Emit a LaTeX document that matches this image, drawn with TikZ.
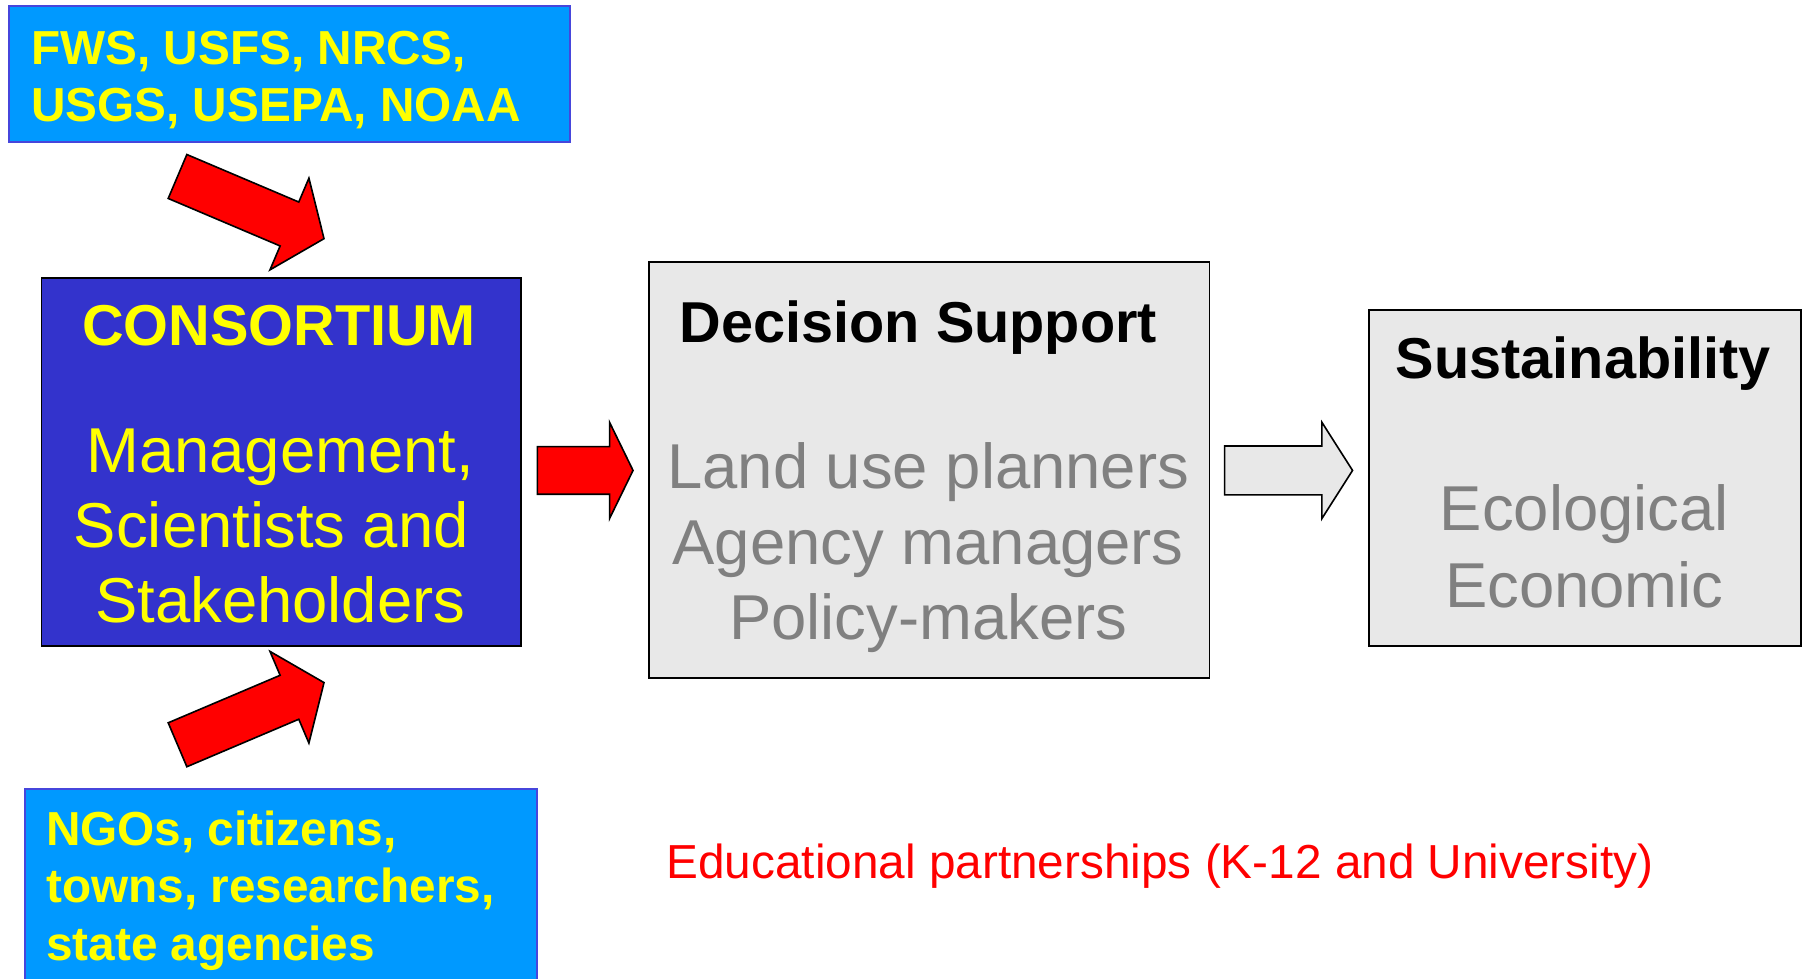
\documentclass[tikz,border=0pt]{standalone}
\usepackage{fontspec}
\setmainfont{Liberation Sans}
\usetikzlibrary{positioning,calc,shapes.arrows}

\definecolor{skyfill}{RGB}{0,153,255}
\definecolor{skyedge}{RGB}{70,70,220}
\definecolor{consfill}{RGB}{51,51,204}
\definecolor{panelfill}{RGB}{232,232,232}
\definecolor{softgray}{RGB}{128,128,128}
\definecolor{hiyellow}{RGB}{255,255,0}

\begin{document}
\begin{tikzpicture}[x=1pt, y=1pt,
  every node/.style={inner sep=0pt, outer sep=0pt},
  skybox/.style={draw=skyedge, line width=0.8pt, fill=skyfill},
  panel/.style={draw=black, line width=0.7pt, fill=panelfill},
  headline/.style={font=\fontsize{25}{30}\selectfont\bfseries},
  grayline/.style={text=softgray, align=center, font=\fontsize{27.5}{32.75}\selectfont},
  yellowbold/.style={text=hiyellow, align=left, font=\fontsize{20.7}{24.5}\selectfont\bfseries},
  fatarrow/.style={single arrow, draw=black, line width=0.7pt, inner ysep=10pt,
    single arrow head extend=#1},
  fatarrow/.default=11pt]
  \useasboundingbox (0,0) rectangle (784,424.5);
  \clip (0,0) rectangle (784,424.5);

  % agencies and public boxes (text placed on the last baseline)
  \node[skybox, minimum width=243pt, minimum height=59pt] (agencies) at (125.5,392.5) {};
  \node[yellowbold, anchor=base west] (agenciestxt) at (13.5,372)
    {FWS, USFS, NRCS,\\USGS, USEPA, NOAA};
  \node[skybox, minimum width=222pt, minimum height=102.5pt] (public) at (122,31.25) {};
  \node[yellowbold, font=\fontsize{20.7}{25}\selectfont\bfseries, anchor=base west] (publictxt) at (20,8)
    {NGOs, citizens,\\towns, researchers,\\state agencies};

  % consortium
  \node[draw=black, line width=0.8pt, fill=consfill, minimum width=208pt, minimum height=159.5pt] (consortium) at (122,224.25) {};
  \node[headline, text=hiyellow, anchor=base] (constitle) at (121,274.5) {CONSORTIUM};
  \node[text=hiyellow, align=center, font=\fontsize{27.5}{32.5}\selectfont, anchor=base] (consbody) at (121.5,154.5)
    {Management,\\Scientists and\hphantom{\ }\\Stakeholders};

  % decision support
  \node[panel, minimum width=243pt, minimum height=180.5pt] (decision) at (403,220.75) {};
  \node[headline, anchor=base] (dectitle) at (398.25,276) {Decision Support};
  \node[grayline, anchor=base] (decbody) at (402.5,147)
    {Land use planners\\Agency managers\\Policy-makers};

  % sustainability
  \node[panel, minimum width=187.5pt, minimum height=145.5pt] (sustain) at (687.25,217.25) {};
  \node[headline, anchor=base] (sustitle) at (686.5,260.5) {Sustainability};
  \node[grayline, font=\fontsize{27.5}{33.5}\selectfont, anchor=base] (susbody) at (687,161)
    {Ecological\\Economic};

  % block arrows
  \node[fatarrow=11.25pt, fill=red, minimum height=69pt,
        single arrow tip angle=106, rotate=-23, anchor=tip] (agencyarrow) at (140.5,321) {};
  \node[fatarrow=11.25pt, fill=red, minimum height=69pt,
        single arrow tip angle=106, rotate=23, anchor=tip] (publicarrow) at (140.5,128.5) {};
  \node[fatarrow=10.5pt, fill=red, minimum height=41.5pt,
        single arrow tip angle=128, anchor=tip] (consarrow) at (274.5,220.5) {};
  \node[fatarrow=10.25pt, fill=panelfill, inner ysep=10.25pt, minimum height=55.5pt,
        single arrow tip angle=115, anchor=tip] (decarrow) at (586.5,220.5) {};

  \node[text=red, font=\fontsize{20.7}{25}\selectfont, anchor=base west] (education) at (289,43.5)
    {Educational partnerships (K-12 and University)};
\end{tikzpicture}
\end{document}
